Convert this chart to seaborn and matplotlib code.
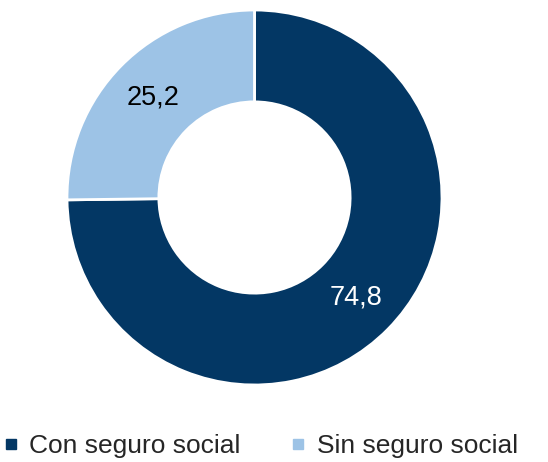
import matplotlib
matplotlib.use("Agg")
import matplotlib.pyplot as plt
from matplotlib.lines import Line2D
import numpy as np
import seaborn as sns

categories = ["Con seguro social", "Sin seguro social"]
values = [74.8, 25.2]
value_labels = ["74,8", "25,2"]

sns.set_theme(style="white")
plt.rcParams["font.family"] = ["Liberation Sans", "DejaVu Sans"]

colors = ["#033764", "#9DC3E6"]
label_colors = ["white", "black"]

fig = plt.figure(figsize=(5.48, 4.62), dpi=100)
ax = fig.add_axes([67 / 548, (462 - 385) / 462, 375 / 548, 375 / 462])

wedges, texts = ax.pie(
    values,
    colors=colors,
    startangle=90,
    counterclock=False,
    wedgeprops=dict(width=0.49, edgecolor="white", linewidth=2),
)
ax.set_xlim(-1.0, 1.0)
ax.set_ylim(-1.0, 1.0)
ax.set_aspect("equal")
ax.axis("off")

# value labels at the middle angle of each ring segment
for w, lab, c in zip(wedges, value_labels, label_colors):
    ang = np.deg2rad((w.theta1 + w.theta2) / 2)
    r = 0.76
    ax.text(r * np.cos(ang), r * np.sin(ang), lab, ha="center", va="center",
            fontsize=19.5, color=c)

handles = [Line2D([], [], marker="s", linestyle="none", markersize=7,
                  markerfacecolor=c, markeredgecolor=c) for c in colors]
fig.legend(handles, categories, loc="center", bbox_to_anchor=(259 / 548, 1 - 446 / 462),
           ncol=2, frameon=False, fontsize=19, handletextpad=0.3,
           columnspacing=1.8, handlelength=0.8, borderpad=0)

fig.savefig("out.png", dpi=100)
